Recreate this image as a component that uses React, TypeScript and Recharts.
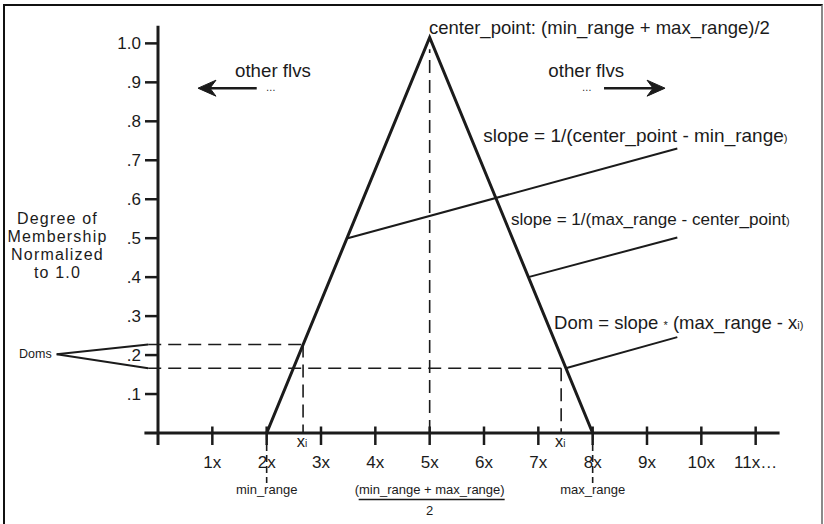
import React from 'react';
import { ComposedChart, Line, XAxis, YAxis, ReferenceLine } from 'recharts';

const INK = '#1b1b1b';
const FONT = '"Liberation Sans", Arial, Helvetica, sans-serif';

// Triangular membership function: min_range, center_point, max_range
const triangleX = [2, 5, 8];
const triangleDom = [0, 1.015, 0];
const triangleData = triangleX.map((x, i) => ({ x, dom: triangleDom[i] }));

// Axis ticks
const xTickValues = [1, 2, 3, 4, 5, 6, 7, 8, 9, 10, 11];
const xTickLabels = ['1x', '2x', '3x', '4x', '5x', '6x', '7x', '8x', '9x', '10x', '11x…'];
const yTickValues = [0.1, 0.2, 0.3, 0.4, 0.5, 0.6, 0.7, 0.8, 0.9, 1.0];
const yTickLabels = ['.1', '.2', '.3', '.4', '.5', '.6', '.7', '.8', '.9', '1.0'];

// Range markers under the axis
const minRangeAt = 2;
const maxRangeAt = 8;
const centerAt = 5;

const xDomain = [0, 12];
const yDomain = [0, 1.06];
const xAxisExtent = [-0.25, 11.44];
const yAxisExtent = [-0.031, 1.045];

// Sample inputs xi and their degrees of membership
const centerLineTop = 0.985;
const xiLeft = 2.67;
const domLeft = 0.227;
const xiRight = 7.42;
const domRight = 0.166;
const domRightEdge = 7.5;
const domsGuideStart = -0.18;
const domsLabelAt = { x: -1.865, dom: 0.202 };

// Leader lines from the triangle edges to their notes
const slopeUpLeader = [{ x: 3.473, dom: 0.499 }, { x: 9.558, dom: 0.73 }];
const slopeDownLeader = [{ x: 6.816, dom: 0.4 }, { x: 9.558, dom: 0.502 }];
const domLeader = [{ x: 7.504, dom: 0.166 }, { x: 9.558, dom: 0.246 }];

// "other flvs" arrows (tail -> head)
const arrowLeft = [{ x: 1.817, dom: 0.885 }, { x: 0.736, dom: 0.885 }];
const arrowRight = [{ x: 8.209, dom: 0.885 }, { x: 9.332, dom: 0.885 }];

const seg = (pts: { x: number; dom: number }[]) => pts.map((p) => ({ x: p.x, y: p.dom }));

const txt = { fontFamily: FONT, fill: INK } as const;

function XTick(props: any) {
  const { x, y, payload } = props;
  const v = payload.value as number;
  const label = xTickLabels[xTickValues.indexOf(v)];
  const isRange = v === minRangeAt || v === maxRangeAt;
  return (
    <g>
      <line x1={x} x2={x} y1={y - 6.5} y2={y + 12} stroke={INK} strokeWidth={2.5} />
      <text x={x} y={y + 35} textAnchor="middle" fontSize={17} {...txt}>
        {label}
      </text>
      {isRange && (
        <>
          <line x1={x} x2={x} y1={y} y2={y + 50} stroke={INK} strokeWidth={1.6} strokeDasharray="7 4" />
          <text x={x} y={y + 61} textAnchor="middle" fontSize={13} {...txt}>
            {v === minRangeAt ? 'min_range' : 'max_range'}
          </text>
        </>
      )}
      {v === centerAt && (
        <>
          <text x={x} y={y + 61} textAnchor="middle" fontSize={13} {...txt}>
            (min_range + max_range)
          </text>
          <line x1={x - 71} x2={x + 75} y1={y + 66.5} y2={y + 66.5} stroke={INK} strokeWidth={1.6} />
          <text x={x} y={y + 82} textAnchor="middle" fontSize={13} {...txt}>
            2
          </text>
        </>
      )}
    </g>
  );
}

function YTitle(props: any) {
  const { x, y } = props.viewBox;
  const cx = x + 57.5;
  const lines = ['Degree of', 'Membership', 'Normalized', 'to 1.0'];
  const base = [204, 222, 240, 258];
  return (
    <text textAnchor="middle" fontSize={16} letterSpacing={1.2} {...txt}>
      {lines.map((l, i) => (
        <tspan key={l} x={cx} y={y + base[i]}>
          {l}
        </tspan>
      ))}
    </text>
  );
}

function ArrowShape(props: any) {
  const { x1, y1, x2, y2 } = props;
  const dir = x2 > x1 ? 1 : -1;
  const head = `M${x2},${y2} L${x2 - dir * 18},${y2 - 8} L${x2 - dir * 12},${y2} L${x2 - dir * 18},${y2 + 8} Z`;
  return (
    <g>
      <line x1={x1} y1={y1} x2={x2 - dir * 12} y2={y2} stroke={INK} strokeWidth={2.5} />
      <path d={head} fill={INK} stroke={INK} strokeWidth={1} strokeLinejoin="miter" />
    </g>
  );
}

function OtherLeftLabel(props: any) {
  const { x, y, width } = props.viewBox;
  const tail = x + width;
  return (
    <g>
      <text x={tail - 21.7} y={y - 11.3} fontSize={18.7} {...txt}>other flvs</text>
      <text x={tail + 14.7} y={y + 3} textAnchor="middle" fontSize={10} letterSpacing={1.2} {...txt}>…</text>
    </g>
  );
}

function OtherRightLabel(props: any) {
  const { x, y } = props.viewBox;
  const tail = x;
  return (
    <g>
      <text x={tail - 55.7} y={y - 11.3} fontSize={18.7} {...txt}>other flvs</text>
      <text x={tail - 16} y={y + 3} textAnchor="middle" fontSize={10} letterSpacing={2.5} {...txt}>…</text>
    </g>
  );
}

function CenterLabel(props: any) {
  const { x, y } = props.viewBox;
  return (
    <text x={x - 0.7} y={y - 15} fontSize={18.5} {...txt}>
      center_point: (min_range + max_range)/2
    </text>
  );
}

function SlopeUpLabel(props: any) {
  const { x, y, width } = props.viewBox;
  return (
    <text x={x + width - 194} y={y - 7} fontSize={19} {...txt}>
      slope = 1/(center_point - min_range<tspan fontSize={11}>)</tspan>
    </text>
  );
}

function SlopeDownLabel(props: any) {
  const { x, y, width } = props.viewBox;
  return (
    <text x={x + width - 166.3} y={y - 12.3} fontSize={17.1} {...txt}>
      slope = 1/(max_range - center_point<tspan fontSize={11}>)</tspan>
    </text>
  );
}

function DomLabel(props: any) {
  const { x, y, width } = props.viewBox;
  return (
    <text x={x + width - 123.3} y={y - 8.3} fontSize={18.5} {...txt}>
      {'Dom = slope '}
      <tspan fontSize={11}>*</tspan>
      {' (max_range - x'}
      <tspan fontSize={11}>i)</tspan>
    </text>
  );
}

function XiLabel(props: any) {
  const { x, y, height } = props.viewBox;
  return (
    <text x={x - 1} y={y + height + 14} textAnchor="middle" fontSize={16.5} {...txt}>
      x<tspan fontSize={10}>i</tspan>
    </text>
  );
}

function DomsLabel(props: any) {
  const { x, y, height } = props.viewBox;
  return (
    <text x={x - 5} y={y + height + 4.2} textAnchor="end" fontSize={12.5} {...txt}>
      Doms
    </text>
  );
}

export default function App() {
  const dash = { stroke: INK, strokeWidth: 1.6, strokeDasharray: '13 7' };
  const leader = { stroke: INK, strokeWidth: 2 };
  return (
    <div style={{ position: 'absolute', left: 0, top: 0, width: 824, height: 524, overflow: 'hidden', background: '#fff' }}>
      <div style={{ position: 'absolute', left: 0, top: 0 }}>
        <ComposedChart
          width={824}
          height={524}
          data={triangleData}
          margin={{ top: 20, right: 14, bottom: 0, left: 0 }}
        >
          <XAxis
            type="number"
            dataKey="x"
            domain={xDomain}
            allowDataOverflow
            ticks={xTickValues}
            interval={0}
            height={91}
            tickSize={0}
            tickMargin={0}
            axisLine={false}
            tickLine={false}
            tick={XTick}
          />
          <YAxis
            type="number"
            domain={yDomain}
            allowDataOverflow
            ticks={yTickValues}
            interval={0}
            width={158}
            tickSize={13}
            tickMargin={4}
            axisLine={false}
            tickLine={{ stroke: INK, strokeWidth: 2.5 }}
            tick={{ fill: INK, fontSize: 17, fontFamily: FONT }}
            tickFormatter={(v: number) => yTickLabels[yTickValues.indexOf(v)]}
            label={YTitle}
          />

          {/* axes drawn through the origin */}
          <ReferenceLine segment={[{ x: xAxisExtent[0], y: 0 }, { x: xAxisExtent[1], y: 0 }]} ifOverflow="visible" stroke={INK} strokeWidth={3} />
          <ReferenceLine segment={[{ x: 0, y: yAxisExtent[0] }, { x: 0, y: yAxisExtent[1] }]} ifOverflow="visible" stroke={INK} strokeWidth={3} />

          {/* center_point guide */}
          <ReferenceLine segment={[{ x: centerAt, y: 0 }, { x: centerAt, y: centerLineTop }]} ifOverflow="visible" {...dash} label={CenterLabel} />

          {/* Dom guides for the two xi samples */}
          <ReferenceLine segment={[{ x: domsGuideStart, y: domLeft }, { x: xiLeft, y: domLeft }]} ifOverflow="visible" {...dash} />
          <ReferenceLine segment={[{ x: xiLeft, y: domLeft }, { x: xiLeft, y: 0 }]} ifOverflow="visible" {...dash} label={XiLabel} />
          <ReferenceLine segment={[{ x: domsGuideStart, y: domRight }, { x: domRightEdge, y: domRight }]} ifOverflow="visible" {...dash} />
          <ReferenceLine segment={[{ x: xiRight, y: domRight }, { x: xiRight, y: 0 }]} ifOverflow="visible" {...dash} label={XiLabel} />

          {/* Doms pointer */}
          <ReferenceLine segment={[{ x: domsLabelAt.x, y: domsLabelAt.dom }, { x: domsGuideStart, y: domLeft }]} ifOverflow="visible" {...leader} label={DomsLabel} />
          <ReferenceLine segment={[{ x: domsLabelAt.x, y: domsLabelAt.dom }, { x: domsGuideStart, y: domRight }]} ifOverflow="visible" {...leader} />

          {/* notes */}
          <ReferenceLine segment={seg(slopeUpLeader)} ifOverflow="visible" {...leader} label={SlopeUpLabel} />
          <ReferenceLine segment={seg(slopeDownLeader)} ifOverflow="visible" {...leader} label={SlopeDownLabel} />
          <ReferenceLine segment={seg(domLeader)} ifOverflow="visible" {...leader} label={DomLabel} />

          {/* neighbouring fuzzy linguistic variables */}
          <ReferenceLine segment={seg(arrowLeft)} ifOverflow="visible" shape={ArrowShape} label={OtherLeftLabel} />
          <ReferenceLine segment={seg(arrowRight)} ifOverflow="visible" shape={ArrowShape} label={OtherRightLabel} />

          <Line
            type="linear"
            dataKey="dom"
            stroke={INK}
            strokeWidth={3}
            strokeLinejoin="miter"
            dot={false}
            activeDot={false}
            isAnimationActive={false}
          />
        </ComposedChart>
      </div>
      <div
        style={{
          position: 'absolute',
          left: 2.7,
          top: 4,
          width: 820.8,
          height: 540,
          boxSizing: 'border-box',
          borderTop: '2px solid #111',
          borderLeft: '2px solid #111',
          borderRight: '2px solid #8a8a8a',
          pointerEvents: 'none',
        }}
      />
    </div>
  );
}
